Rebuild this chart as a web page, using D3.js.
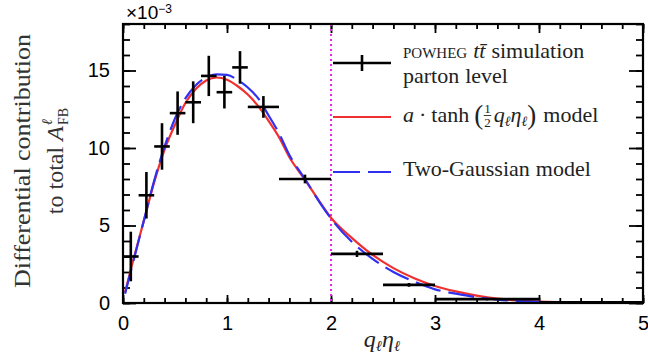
<!DOCTYPE html>
<html><head><meta charset="utf-8">
<script src="https://cdn.jsdelivr.net/npm/d3@7"></script>
<style>body{margin:0;background:#fff} svg{display:block}</style>
</head><body>
<svg id="c" width="648" height="356"></svg>
<script>
// ---- data (values in units of 1e-3) ----
const binLo  = [0, 0.15, 0.3, 0.45, 0.6, 0.75, 0.9, 1.05, 1.2, 1.5, 2.0, 2.5, 3.0, 4.0];
const binHi  = [0.15, 0.3, 0.45, 0.6, 0.75, 0.9, 1.05, 1.2, 1.5, 2.0, 2.5, 3.0, 4.0, 5.0];
const binVal = [3.0, 6.95, 10.1, 12.25, 12.95, 14.65, 13.6, 15.2, 12.65, 8.0, 3.17, 1.17, 0.25, 0.05];
const binErr = [1.6, 1.5, 1.5, 1.4, 1.35, 1.3, 1.05, 1.05, 0.7, 0.28, 0.2, 0.12, 0.08, 0.03];

const curveX     = [0.02,0.1,0.2,0.3,0.4,0.5,0.6,0.7,0.8,0.9,1.0,1.1,1.2,1.3,1.4,1.5,1.6,1.75,1.9,2.0,2.2,2.4,2.6,2.8,3.0,3.2,3.4,3.6,3.8,4.0,4.5,5.0];
const tanhModel  = [0.7,2.8,5.3,7.8,9.9,11.5,12.9,13.8,14.35,14.55,14.4,14.0,13.45,12.7,11.75,10.7,9.4,7.95,6.45,5.5,4.2,3.1,2.25,1.6,1.1,0.75,0.48,0.28,0.16,0.09,0.03,0.01];
const gaussModel = [0.6,2.7,5.3,7.9,10.1,11.9,13.2,14.05,14.55,14.75,14.72,14.4,13.9,13.2,12.1,10.95,9.55,8.0,6.4,5.45,3.95,2.85,2.0,1.38,0.88,0.6,0.37,0.22,0.13,0.08,0.03,0.01];

const xTicks = [0, 1, 2, 3, 4, 5];
const yTicks = [0, 5, 10, 15];
const cutValue = 2;

// ---- layout ----
const L = 123, R = 643, T = 24, B = 303;
const serif = "'Liberation Serif','Times New Roman',serif";
const sans = "'Liberation Sans',Arial,sans-serif";
const svg = d3.select("#c");
const x = d3.scaleLinear().domain([0, 5]).range([L, R]);
const y = d3.scaleLinear().domain([0, 18]).range([B, T]);

svg.append("defs").append("clipPath").attr("id", "clip")
  .append("rect").attr("x", L).attr("y", T).attr("width", R - L).attr("height", B - T);

// axes
function styleAxis(g) {
  g.select(".domain").remove();
  g.selectAll(".tick line").attr("stroke", "#000").attr("stroke-width", 1.8);
  g.selectAll("text").attr("font-family", sans).attr("font-size", 20).attr("fill", "#000");
}
const xMinor = x.ticks(25), yMinor = y.ticks(18);
svg.append("g").attr("transform", `translate(0,${B})`)
  .call(d3.axisBottom(x).tickValues(xMinor).tickSize(-5).tickFormat("")).call(styleAxis);
svg.append("g").attr("transform", `translate(0,${B})`)
  .call(d3.axisBottom(x).tickValues(xTicks).tickSize(-8).tickPadding(13).tickFormat(d3.format("d"))).call(styleAxis);
svg.append("g").attr("transform", `translate(0,${T})`)
  .call(d3.axisTop(x).tickValues(xMinor).tickSize(-5).tickFormat("")).call(styleAxis);
svg.append("g").attr("transform", `translate(0,${T})`)
  .call(d3.axisTop(x).tickValues(xTicks).tickSize(-9).tickFormat("")).call(styleAxis);
svg.append("g").attr("transform", `translate(${L},0)`)
  .call(d3.axisLeft(y).tickValues(yMinor).tickSize(-7).tickFormat("")).call(styleAxis);
svg.append("g").attr("transform", `translate(${L},0)`)
  .call(d3.axisLeft(y).tickValues(yTicks).tickSize(-13).tickPadding(13).tickFormat(d3.format("d"))).call(styleAxis);
svg.append("g").attr("transform", `translate(${R},0)`)
  .call(d3.axisRight(y).tickValues(yMinor).tickSize(-7).tickFormat("")).call(styleAxis);
svg.append("g").attr("transform", `translate(${R},0)`)
  .call(d3.axisRight(y).tickValues(yTicks).tickSize(-14).tickFormat("")).call(styleAxis);

// cut line
svg.append("line").attr("x1", x(cutValue)).attr("x2", x(cutValue)).attr("y1", T).attr("y2", B)
  .attr("stroke", "#ee22ee").attr("stroke-width", 2).attr("stroke-dasharray", "2,3");

// curves
const pts = (arr) => curveX.map((v, i) => [v, arr[i]]);
const line = d3.line().x(d => x(d[0])).y(d => y(d[1])).curve(d3.curveMonotoneX);
const cg = svg.append("g").attr("clip-path", "url(#clip)");
cg.append("path").attr("d", line(pts(tanhModel))).attr("fill", "none")
  .attr("stroke", "#f03030").attr("stroke-width", 2.2);
cg.append("path").attr("d", line(pts(gaussModel))).attr("fill", "none")
  .attr("stroke", "#3030f0").attr("stroke-width", 2.2).attr("stroke-dasharray", "26,8");

// data points
const bins = binVal.map((v, i) => ({lo: binLo[i], hi: binHi[i], v, e: binErr[i]}));
const dg = svg.append("g").attr("stroke", "#000").attr("stroke-width", 2.6);
dg.selectAll(".h").data(bins).join("line")
  .attr("x1", d => x(d.lo)).attr("x2", d => x(d.hi)).attr("y1", d => y(d.v)).attr("y2", d => y(d.v));
dg.selectAll(".v").data(bins).join("line")
  .attr("x1", d => x((d.lo + d.hi) / 2)).attr("x2", d => x((d.lo + d.hi) / 2))
  .attr("y1", d => y(d.v - d.e)).attr("y2", d => y(d.v + d.e));

// frame
svg.append("rect").attr("x", L).attr("y", T).attr("width", R - L).attr("height", B - T)
  .attr("fill", "none").attr("stroke", "#000").attr("stroke-width", 2.2);

// exponent label
const ex = svg.append("text").attr("x", 126).attr("y", 19).attr("font-family", sans).attr("font-size", 19);
ex.append("tspan").text("×10");
ex.append("tspan").attr("font-size", 12).attr("dy", -6).text("−3");

// legend
const lg = svg.append("g");
lg.append("line").attr("x1", 333).attr("x2", 391).attr("y1", 63).attr("y2", 63).attr("stroke", "#000").attr("stroke-width", 2.6);
lg.append("line").attr("x1", 362).attr("x2", 362).attr("y1", 55).attr("y2", 71).attr("stroke", "#000").attr("stroke-width", 2.6);
lg.append("line").attr("x1", 333).attr("x2", 391).attr("y1", 117).attr("y2", 117).attr("stroke", "#f03030").attr("stroke-width", 2.2);
lg.append("line").attr("x1", 333).attr("x2", 391).attr("y1", 172).attr("y2", 172).attr("stroke", "#3030f0").attr("stroke-width", 2.2).attr("stroke-dasharray", "27,8");

function seq(x0, yb, parts) {
  let cx = x0;
  parts.forEach(p => {
    if (p.gap !== undefined) { cx += p.gap; return; }
    if (p.frac) {
      const a = svg.append("text").attr("x", cx).attr("y", yb - 9).attr("font-family", serif).attr("font-size", 13).attr("fill", "#222").text("1");
      const w = a.node().getComputedTextLength();
      svg.append("text").attr("x", cx).attr("y", yb + 5).attr("font-family", serif).attr("font-size", 13).attr("fill", "#222").text("2");
      svg.append("line").attr("x1", cx - 0.5).attr("x2", cx + w + 0.5).attr("y1", yb - 6.5).attr("y2", yb - 6.5).attr("stroke", "#222").attr("stroke-width", 0.9);
      cx += w + 2;
      return;
    }
    const t = svg.append("text").attr("x", cx).attr("y", yb + (p.dy || 0))
      .attr("font-family", serif).attr("font-size", p.size || 22).attr("fill", "#222")
      .attr("font-style", p.italic ? "italic" : null)
      .attr("font-variant", p.sc ? "small-caps" : null).text(p.t);
    cx += t.node().getComputedTextLength() + (p.after || 0);
  });
}
seq(403, 58, [{t: "powheg", sc: true}, {gap: 6}, {t: "tt\u0304", italic: true}, {gap: 6}, {t: "simulation"}]);
seq(403, 83, [{t: "parton"}, {gap: 6}, {t: "level"}]);
seq(403, 122, [{t: "a", italic: true}, {gap: 5}, {t: "·"}, {gap: 5}, {t: "tanh"}, {gap: 5},
  {t: "(", size: 27, dy: 2}, {gap: 1}, {frac: true}, {gap: 1}, {t: "q", italic: true}, {t: "ℓ", size: 14, dy: 4, italic: true},
  {t: "η", italic: true}, {t: "ℓ", size: 14, dy: 4, italic: true}, {t: ")", size: 27, dy: 2}, {gap: 7}, {t: "model"}]);
seq(403, 176, [{t: "Two-Gaussian"}, {gap: 6}, {t: "model"}]);

// axis titles
const xt = svg.append("text").attr("x", 382).attr("y", 347).attr("text-anchor", "middle")
  .attr("font-family", serif).attr("font-size", 24).attr("fill", "#222");
xt.append("tspan").attr("font-style", "italic").text("q");
xt.append("tspan").attr("font-style", "italic").attr("font-size", 15).attr("dy", 4).text("ℓ");
xt.append("tspan").attr("font-style", "italic").attr("dy", -4).text("η");
xt.append("tspan").attr("font-style", "italic").attr("font-size", 15).attr("dy", 4).text("ℓ");

svg.append("text").attr("transform", "translate(30,161) rotate(-90)").attr("text-anchor", "middle")
  .attr("font-family", serif).attr("font-size", 24).attr("fill", "#333")
  .attr("textLength", 254).attr("lengthAdjust", "spacingAndGlyphs")
  .text("Differential contribution");
const yt2 = svg.append("text").attr("transform", "translate(63,161) rotate(-90)").attr("text-anchor", "middle")
  .attr("font-family", serif).attr("font-size", 24).attr("fill", "#333");
yt2.append("tspan").text("to total ");
yt2.append("tspan").attr("font-style", "italic").text("A");
yt2.append("tspan").attr("font-style", "italic").attr("font-size", 15).attr("dy", -11).attr("dx", 1).text("ℓ");
yt2.append("tspan").attr("font-size", 14).attr("dy", 16).attr("dx", -6).text("FB");
</script>
</body></html>
